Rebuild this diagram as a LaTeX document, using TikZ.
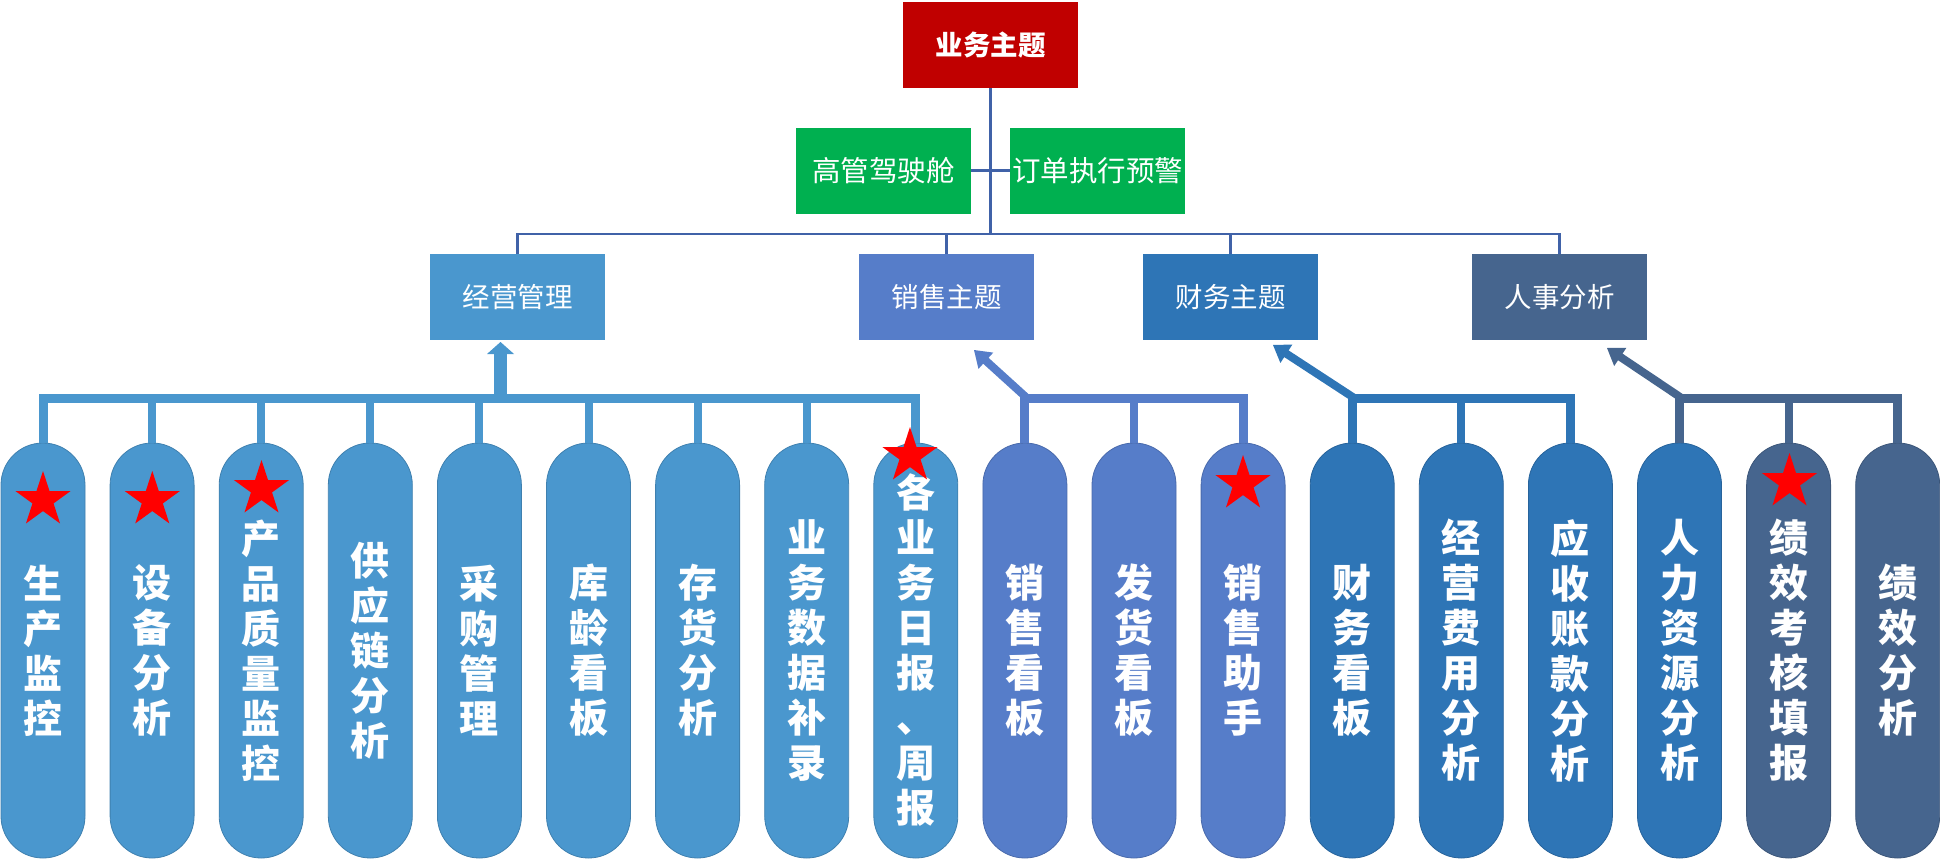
\documentclass[tikz,border=0pt]{standalone}
\usepackage{fontspec}
\setmainfont{Noto Sans CJK SC}
\usetikzlibrary{calc,shapes.geometric}
\definecolor{gA}{HTML}{4A97CE}
\definecolor{gB}{HTML}{567DC9}
\definecolor{gC}{HTML}{2E75B6}
\definecolor{gD}{HTML}{46658E}
\definecolor{topline}{HTML}{4062A8}
\definecolor{redbox}{HTML}{C00000}
\definecolor{greenbox}{HTML}{00B050}
\definecolor{starred}{HTML}{FF0000}
\tikzset{
  box/.style={minimum width=175pt, minimum height=86pt, inner sep=0pt, text=white,
    font=\fontsize{27.5}{31}\selectfont},
  pill/.style={minimum width=84pt, minimum height=415pt, rounded corners=41.9pt,
    inner sep=0pt, text=white, align=center,
    font=\fontsize{39}{45}\selectfont\bfseries,
    draw=#1!85!black, fill=#1, line width=0.8pt},
  thinline/.style={draw=topline, line width=2.5pt},
  barline/.style={draw=#1, line width=9pt, line join=miter},
  dropline/.style={draw=#1, line width=8pt},
  redstar/.style={star, star points=5, star point ratio=2.618, minimum size=58pt,
    inner sep=0pt, fill=starred, draw=none},
}
\newcommand\thickarrow[7]{%
  \draw[#1, line width=#4] (#2) -- ($(#3)!#7!(#2)$);
  \fill[#1] (#3) -- ($(#3)!#5!(#2)!#6!90:(#3)$) -- ($(#3)!#5!(#2)!#6!-90:(#3)$) -- cycle;}
\begin{document}
\begin{tikzpicture}[x=1pt,y=-1pt]
\useasboundingbox (0,0) rectangle (1940,859);
% top boxes
\node[box, fill=redbox, font=\fontsize{27.5}{31}\selectfont\bfseries] (top) at (990.5,45) {业务主题};
\node[box, fill=greenbox, font=\fontsize{28.5}{32}\selectfont] (gl) at (883.5,170.5) {高管驾驶舱};
\node[box, fill=greenbox, font=\fontsize{28.5}{32}\selectfont] (gr) at (1097.5,170.5) {订单执行预警};
\node[box, fill=gA] (k1) at (517.5,297) {经营管理};
\node[box, fill=gB] (k2) at (946.5,297) {销售主题};
\node[box, fill=gC] (k3) at (1230.5,297) {财务主题};
\node[box, fill=gD] (k4) at (1559.5,297) {人事分析};
\coordinate (hy) at (0,234);
\draw[thinline] (top.south) -- (top.south |- hy);
\draw[thinline] (gl.east) -- (gr.west);
\draw[thinline] (k1.north) -- (k1.north |- hy) -- (k4.north |- hy) -- (k4.north);
\draw[thinline] (k2.north) -- (k2.north |- hy);
\draw[thinline] (k3.north) -- (k3.north |- hy);
% pills
\node[pill=gA] (p1) at (43,650.5) {生\\产\\监\\控};
\node[pill=gA] (p2) at (152.1,650.5) {设\\备\\分\\析};
\node[pill=gA] (p3) at (261.2,650.5) {产\\品\\质\\量\\监\\控};
\node[pill=gA] (p4) at (370.3,650.5) {供\\应\\链\\分\\析};
\node[pill=gA] (p5) at (479.4,650.5) {采\\购\\管\\理};
\node[pill=gA] (p6) at (588.5,650.5) {库\\龄\\看\\板};
\node[pill=gA] (p7) at (697.6,650.5) {存\\货\\分\\析};
\node[pill=gA] (p8) at (806.7,650.5) {业\\务\\数\\据\\补\\录};
\node[pill=gA] (p9) at (915.8,650.5) {各\\业\\务\\日\\报\\、\\周\\报};
\node[pill=gB] (p10) at (1024.9,650.5) {销\\售\\看\\板};
\node[pill=gB] (p11) at (1134,650.5) {发\\货\\看\\板};
\node[pill=gB] (p12) at (1243.1,650.5) {销\\售\\助\\手};
\node[pill=gC] (p13) at (1352.2,650.5) {财\\务\\看\\板};
\node[pill=gC] (p14) at (1461.3,650.5) {经\\营\\费\\用\\分\\析};
\node[pill=gC] (p15) at (1570.4,650.5) {应\\收\\账\\款\\分\\析};
\node[pill=gC] (p16) at (1679.5,650.5) {人\\力\\资\\源\\分\\析};
\node[pill=gD] (p17) at (1788.6,650.5) {绩\\效\\考\\核\\填\\报};
\node[pill=gD] (p18) at (1897.7,650.5) {绩\\效\\分\\析};
% bars and drops
\coordinate (by) at (0,398);
\draw[barline=gA] (p1.north) -- (p1.north |- by) -- (p9.north |- by) -- (p9.north);
\foreach \p in {p2,p3,p4,p5,p6,p7,p8} \draw[dropline=gA] (\p.north) -- (\p.north |- by);
\draw[barline=gB] (p10.north) -- (p10.north |- by) -- (p12.north |- by) -- (p12.north);
\draw[dropline=gB] (p11.north) -- (p11.north |- by);
\draw[barline=gC] (p13.north) -- (p13.north |- by) -- (p15.north |- by) -- (p15.north);
\draw[dropline=gC] (p14.north) -- (p14.north |- by);
\draw[barline=gD] (p16.north) -- (p16.north |- by) -- (p18.north |- by) -- (p18.north);
\draw[dropline=gD] (p17.north) -- (p17.north |- by);
% arrows
\coordinate (a1s) at (500.5,398);
\coordinate (a1t) at (500.5,342);
\thickarrow{gA}{a1s}{a1t}{13pt}{12pt}{13.5pt}{7pt}
\coordinate (a2s) at ($(p10.north |- by)+(2,0)$);
\coordinate (a2t) at (974,350);
\thickarrow{gB}{a2s}{a2t}{8pt}{16pt}{11pt}{9pt}
\coordinate (a3s) at ($(p13.north |- by)+(2,0)$);
\coordinate (a3t) at (1273,345);
\thickarrow{gC}{a3s}{a3t}{8pt}{16pt}{11pt}{9pt}
\coordinate (a4s) at ($(p16.north |- by)+(2,0)$);
\coordinate (a4t) at (1607,348);
\thickarrow{gD}{a4s}{a4t}{8pt}{16pt}{11pt}{9pt}
% stars
\node[redstar] (s1) at (43,500) {};
\node[redstar] (s2) at (152.3,500) {};
\node[redstar] (s3) at (261.5,489) {};
\node[redstar] (s9) at (910,456) {};
\node[redstar] (s12) at (1243,484) {};
\node[redstar] (s17) at (1789.5,482) {};
\end{tikzpicture}
\end{document}
